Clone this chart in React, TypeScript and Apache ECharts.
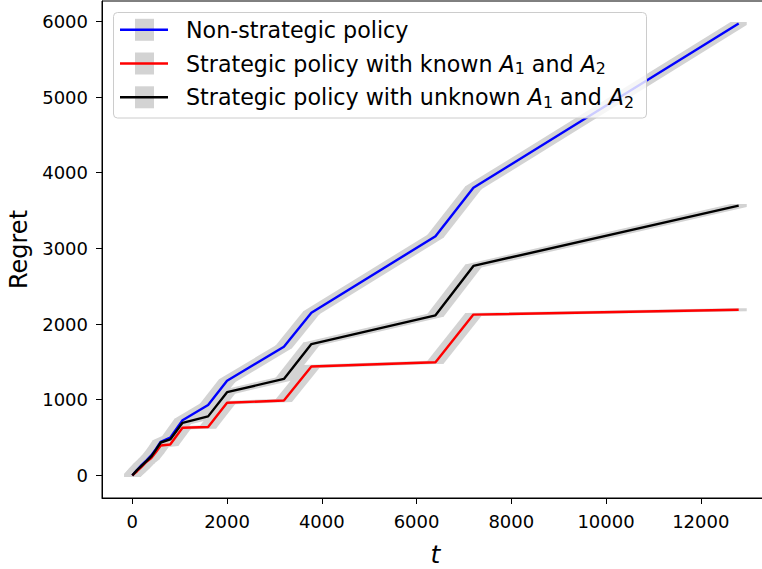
import React, { useEffect, useRef } from "react";
import * as echarts from "echarts";

// ---- data ----
const T = [0, 100, 200, 300, 400, 500, 600, 800, 1060, 1600, 2000, 3200, 3780, 6400, 7200, 12800];
const NON_STRATEGIC = [0, 70, 140, 200, 265, 350, 445, 500, 730, 930, 1250, 1700, 2150, 3160, 3800, 5970];
const KNOWN = [0, 55, 115, 180, 230, 310, 396, 409, 630, 640, 960, 990, 1440, 1495, 2125, 2188];
const UNKNOWN = [0, 70, 130, 190, 250, 340, 435, 475, 695, 780, 1100, 1275, 1735, 2115, 2768, 3565];

const SERIES_NAMES = [
  "Non-strategic policy",
  "Strategic policy with known A1 and A2",
  "Strategic policy with unknown A1 and A2",
];
const SERIES_VALUES = [NON_STRATEGIC, KNOWN, UNKNOWN];
const SERIES_COLORS = ["#0000ff", "#ff0000", "#000000"];
const LEGEND_RICH = [
  "{n|Non-strategic policy}",
  "{n|Strategic policy with known }{i|A}{s|1}{n| and }{i|A}{s|2}",
  "{n|Strategic policy with unknown }{i|A}{s|1}{n| and }{i|A}{s|2}",
];
const X_TICKS = [0, 2000, 4000, 6000, 8000, 10000, 12000];
const Y_TICKS = [0, 1000, 2000, 3000, 4000, 5000, 6000];

// band half widths (data units)
const BAND_DT = 170;
const BAND_DV = 20;

const FONT = "DejaVu Sans";

export default function App() {
  const ref = useRef<HTMLDivElement>(null);

  useEffect(() => {
    if (!ref.current) return;
    const chart = echarts.init(ref.current, undefined, { renderer: "svg" });

    const tMax = Math.max(...T);
    const vMax = Math.max(...NON_STRATEGIC, ...KNOWN, ...UNKNOWN);
    const xMin = -0.05 * tMax;
    const xMax = tMax * 1.05;
    const yMin = -0.05 * vMax;
    const yMax = vMax * 1.05;

    const bandSeries = SERIES_VALUES.map((vals, k) => {
      const segs: number[][] = [];
      for (let i = 0; i < T.length - 1; i++) {
        segs.push([T[i], vals[i], T[i + 1], vals[i + 1]]);
      }
      return {
        type: "custom",
        name: "band" + k,
        z: 1,
        silent: true,
        encode: { x: [0, 2], y: [1, 3] },
        data: segs,
        renderItem: (params: any, api: any) => {
          const t1 = api.value(0), v1 = api.value(1), t2 = api.value(2), v2 = api.value(3);
          const c = (t: number, v: number) => api.coord([t, v]);
          const pts = [
            c(t1 - BAND_DT, v1 - BAND_DV),
            c(t1 + BAND_DT, v1 - BAND_DV),
            c(t2 + BAND_DT, v2 - BAND_DV),
            c(t2 + BAND_DT, v2 + BAND_DV),
            c(t2 - BAND_DT, v2 + BAND_DV),
            c(t1 - BAND_DT, v1 + BAND_DV),
          ];
          return { type: "polygon", shape: { points: pts }, style: { fill: "#d3d3d3" }, silent: true };
        },
      };
    });

    const lineSeries = SERIES_VALUES.map((vals, k) => ({
      type: "line",
      name: SERIES_NAMES[k],
      z: 3,
      symbol: "none",
      showSymbol: false,
      data: T.map((t, i) => [t, vals[i]]),
      lineStyle: { color: SERIES_COLORS[k], width: 2.4 },
      itemStyle: { color: SERIES_COLORS[k] },
    }));

    const rowCenters = [29.8, 63.5, 97.3];
    const legends = SERIES_NAMES.map((name, k) => ({
      data: [name],
      left: 120,
      top: rowCenters[k] - 13,
      padding: 0,
      z: 20,
      icon: "rect",
      itemWidth: 48,
      itemHeight: 2.4,
      selectedMode: false,
      formatter: () => LEGEND_RICH[k],
      textStyle: {
        fontFamily: FONT,
        fontSize: 22.2,
        color: "#000",
        lineHeight: 26,
        padding: [0, 0, 0, 13],
        rich: {
          n: { fontFamily: FONT, fontSize: 22.2, color: "#000", lineHeight: 26 },
          i: { fontFamily: FONT, fontSize: 22.2, fontStyle: "italic", color: "#000", lineHeight: 26 },
          s: { fontFamily: FONT, fontSize: 15.8, color: "#000", lineHeight: 16, verticalAlign: "bottom" },
        },
      },
    }));

    const graphics: any[] = [
      {
        type: "rect",
        z: 10,
        silent: true,
        shape: { x: 113.5, y: 12.5, width: 533, height: 105.5, r: 4 },
        style: { fill: "rgba(255,255,255,0.8)", stroke: "#cccccc", lineWidth: 1 },
      },
      ...rowCenters.map((cy) => ({
        type: "rect",
        z: 15,
        silent: true,
        shape: { x: 135, y: cy - 11, width: 19, height: 22 },
        style: { fill: "#d3d3d3" },
      })),
    ];

    chart.setOption({
      animation: false,
      backgroundColor: "#ffffff",
      textStyle: { fontFamily: FONT },
      grid: {
        left: 102,
        top: 1,
        width: 667,
        height: 497,
        show: true,
        borderColor: "#000",
        borderWidth: 1,
        backgroundColor: "transparent",
        containLabel: false,
        outerBoundsMode: "none",
      },
      xAxis: {
        type: "value",
        min: xMin,
        max: xMax,
        name: "t",
        nameLocation: "middle",
        nameGap: 45,
        nameTextStyle: { fontFamily: FONT, fontSize: 25, lineHeight: 22, fontStyle: "italic", color: "#000" },
        splitLine: { show: false },
        axisLine: { show: true, onZero: false, lineStyle: { color: "#000", width: 1 } },
        axisTick: { show: true, inside: false, length: 6, customValues: X_TICKS, lineStyle: { color: "#000", width: 1 } },
        axisLabel: {
          customValues: X_TICKS,
          margin: 14,
          fontFamily: FONT,
          fontSize: 18,
          color: "#000",
          formatter: (v: number) => String(v),
        },
      },
      yAxis: {
        type: "value",
        min: yMin,
        max: yMax,
        name: "Regret",
        nameLocation: "middle",
        nameGap: 66,
        nameTextStyle: { fontFamily: FONT, fontSize: 24, color: "#000" },
        splitLine: { show: false },
        axisLine: { show: true, onZero: false, lineStyle: { color: "#000", width: 1 } },
        axisTick: { show: true, inside: false, length: 6, customValues: Y_TICKS, lineStyle: { color: "#000", width: 1 } },
        axisLabel: {
          customValues: Y_TICKS,
          margin: 14,
          fontFamily: FONT,
          fontSize: 18,
          color: "#000",
          formatter: (v: number) => String(v),
        },
      },
      legend: legends,
      graphic: graphics,
      series: [...bandSeries, ...lineSeries],
    });

    return () => chart.dispose();
  }, []);

  return (
    <div
      ref={ref}
      style={{ position: "fixed", left: 0, top: 0, width: 762, height: 569 }}
    />
  );
}
